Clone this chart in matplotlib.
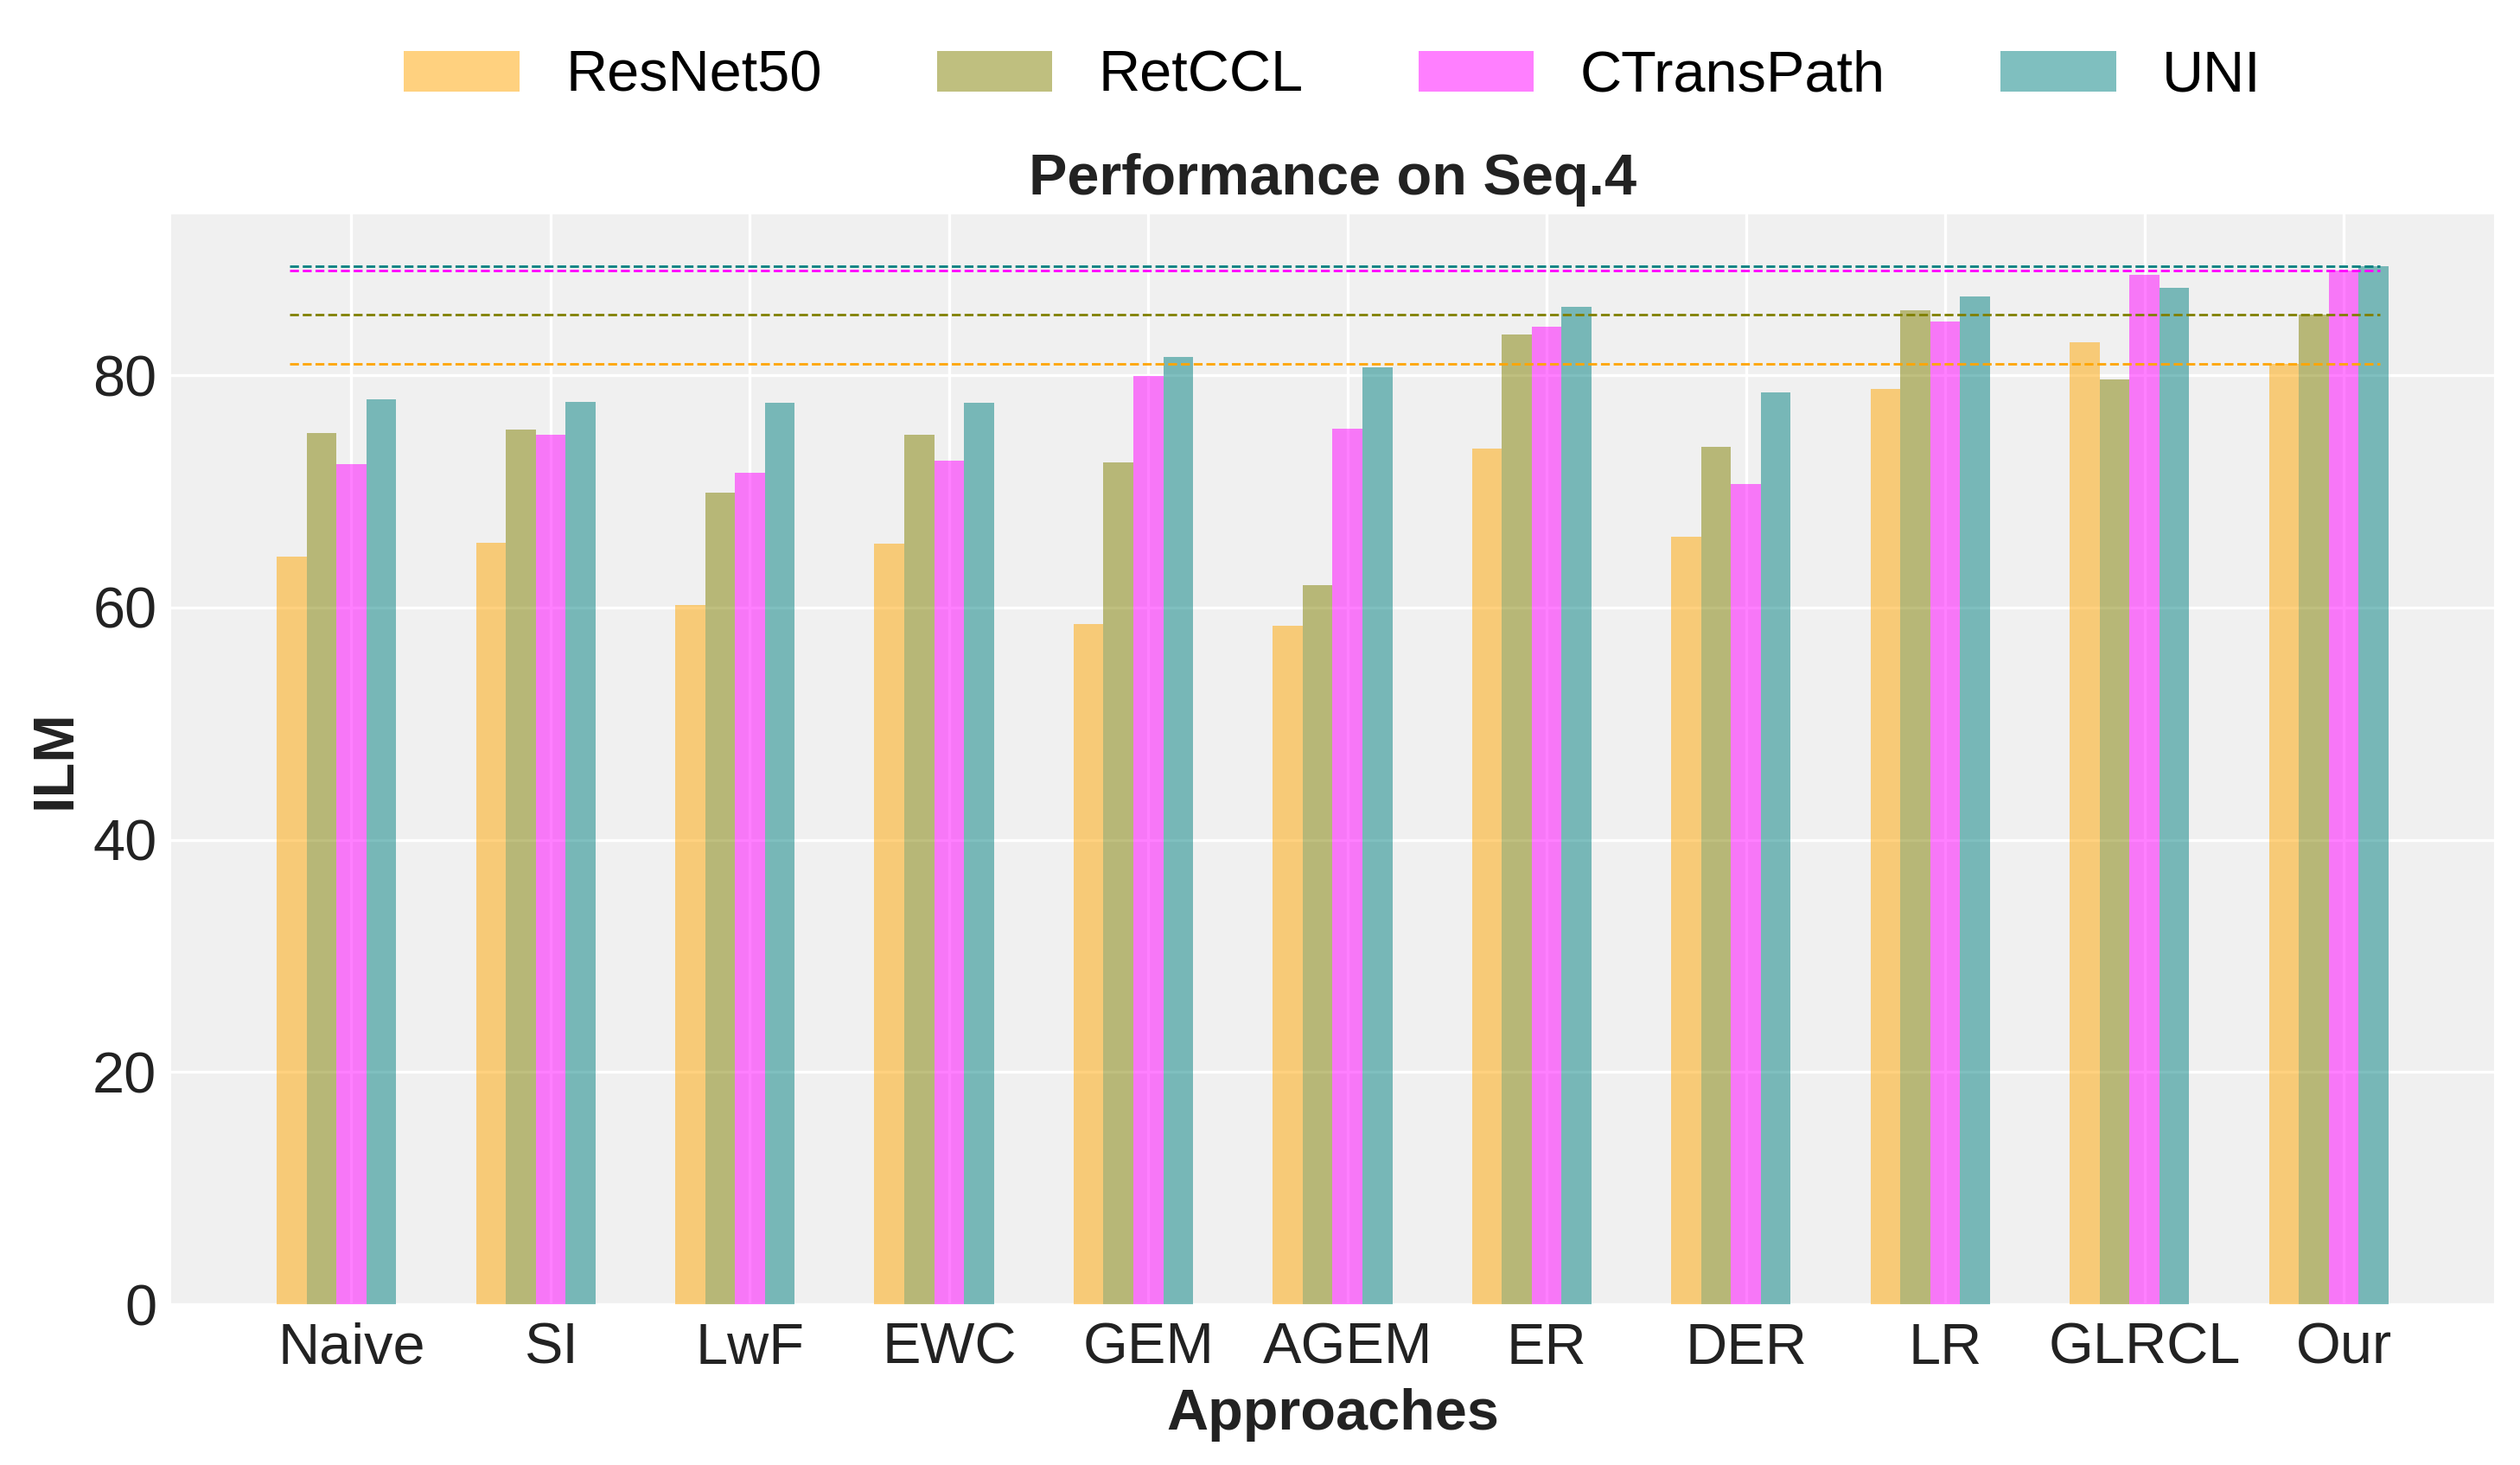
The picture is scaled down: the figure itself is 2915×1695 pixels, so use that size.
import matplotlib
matplotlib.use('Agg')
import matplotlib.pyplot as plt
import numpy as np

plt.rcParams['font.family'] = ['Liberation Sans', 'DejaVu Sans']

approaches = ['Naive', 'SI', 'LwF', 'EWC', 'GEM', 'AGEM', 'ER', 'DER', 'LR', 'GLRCL', 'Our']
models = ['ResNet50', 'RetCCL', 'CTransPath', 'UNI']
colors = ['orange', 'olive', 'magenta', 'teal']

resnet50 = [64.4, 65.6, 60.2, 65.5, 58.6, 58.4, 73.7, 66.1, 78.8, 82.8, 81.0]
retccl = [75.0, 75.3, 69.9, 74.9, 72.5, 61.9, 83.5, 73.8, 85.6, 79.6, 85.2]
ctranspath = [72.3, 74.9, 71.6, 72.6, 79.9, 75.4, 84.2, 70.6, 84.6, 88.6, 89.0]
uni = [77.9, 77.7, 77.6, 77.6, 81.6, 80.7, 85.9, 78.5, 86.8, 87.5, 89.4]

series = [resnet50, retccl, ctranspath, uni]

fig = plt.figure(figsize=(14.575, 8.475), dpi=200, facecolor='white')
ax = fig.add_axes([0.0679, 0.1097, 0.9218, 0.7442])
ax.set_facecolor('#f0f0f0')

x = np.arange(len(approaches))
w = 0.15
for i, (vals, name, c) in enumerate(zip(series, models, colors)):
    ax.bar(x + (i - 2) * w, vals, w, color=c, alpha=0.5, label=name)

# reference lines at our method's scores
for vals, c in zip(series, colors):
    ax.axhline(vals[-1], xmin=0.051, xmax=0.951, color=c, linestyle='--', linewidth=1)

ax.set_xticks(x)
ax.set_xticklabels(approaches)
ax.set_yticks([0, 20, 40, 60, 80])
ax.tick_params(axis='both', labelsize=24, length=0, pad=6, colors='#222222')
ax.tick_params(axis='x', pad=7.4)
ax.grid(True, color='white', linewidth=1.2)
ax.set_axisbelow(True)
for s in ax.spines.values():
    s.set_visible(False)

ax.set_xlabel('Approaches', fontsize=24, fontweight='bold', color='#222222', labelpad=5.3)
ax.set_ylabel('ILM', fontsize=24, fontweight='bold', color='#222222')
ax.set_title('Performance on Seq.4', fontsize=24, fontweight='bold', color='#222222', pad=8)

ax.legend(loc='center', bbox_to_anchor=(0.5, 1.126), ncol=4, frameon=False,
          fontsize=24, handletextpad=0.8, columnspacing=2.0)

fig.savefig('out.png', dpi=200)
